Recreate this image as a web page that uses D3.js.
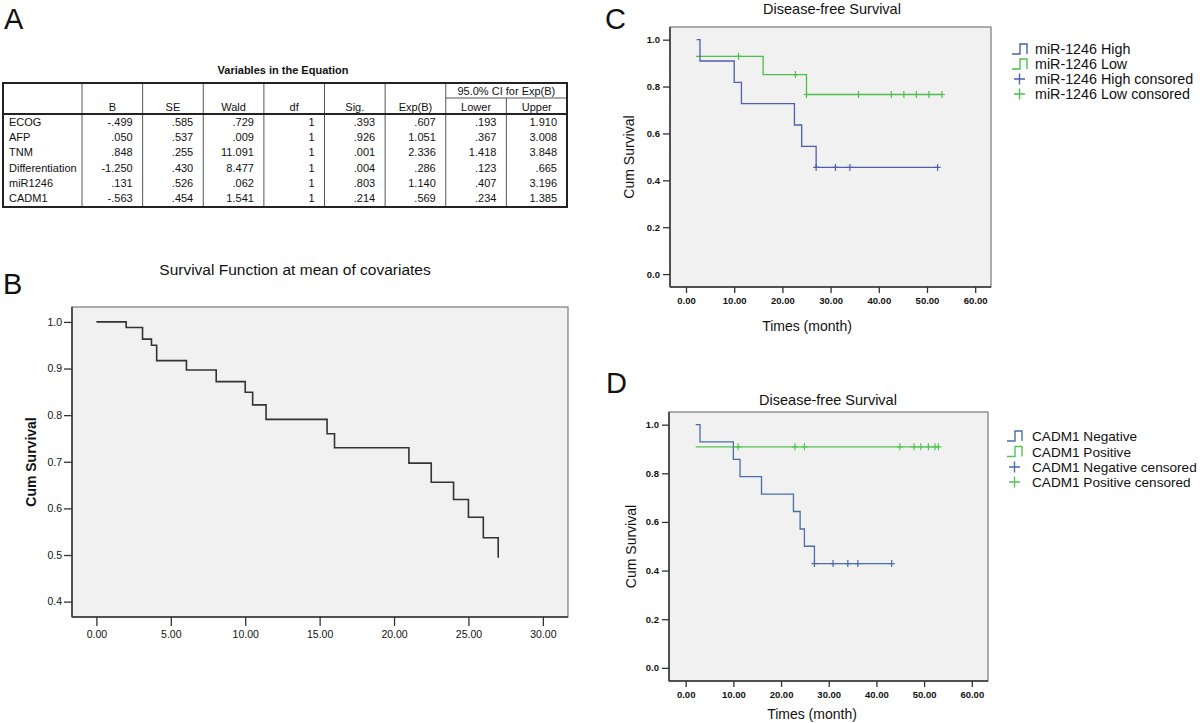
<!DOCTYPE html>
<html><head><meta charset="utf-8">
<script src="https://cdn.jsdelivr.net/npm/d3@7"></script>
<style>body{margin:0;background:#fff}svg{display:block}text{font-family:"Liberation Sans",Arial,sans-serif;fill:#111}</style>
</head><body><svg id="c" width="1200" height="723"></svg>
<script>
// ---------- data: table (panel A) ----------
const tableTitle = "Variables in the Equation";
const tableColumns = ["B","SE","Wald","df","Sig.","Exp(B)","Lower","Upper"];
const tableGroupHeader = "95.0% CI for Exp(B)";
const tableRows = ["ECOG","AFP","TNM","Differentiation","miR1246","CADM1"];
const colB = ["-.499",".050",".848","-1.250",".131","-.563"];
const colSE = [".585",".537",".255",".430",".526",".454"];
const colWald = [".729",".009","11.091","8.477",".062","1.541"];
const colDf = ["1","1","1","1","1","1"];
const colSig = [".393",".926",".001",".004",".803",".214"];
const colExpB = [".607","1.051","2.336",".286","1.140",".569"];
const colLower = [".193",".367","1.418",".123",".407",".234"];
const colUpper = ["1.910","3.008","3.848",".665","3.196","1.385"];

// ---------- data: panel B ----------
const bTitle = "Survival Function at mean of covariates";
const bTimes = [0,2.0,3.1,3.7,4.05,6.05,8.05,10.0,10.5,11.4,15.5,16.0,21.0,22.5,24.0,25.0,26.0,27.0];
const bSurv  = [1.0,0.988,0.963,0.950,0.917,0.897,0.872,0.849,0.822,0.791,0.760,0.730,0.697,0.656,0.619,0.581,0.537,0.494];
const bXTicks = [0,5,10,15,20,25,30];
const bYTicks = [0.4,0.5,0.6,0.7,0.8,0.9,1.0];

// ---------- data: panel C ----------
const cTitle = "Disease-free Survival";
const cHighTimes = [2.2,2.9,10.0,11.5,22.5,24.0,27.0,52.2];
const cHighSurv  = [1.0,0.909,0.818,0.727,0.636,0.545,0.455,0.455];
const cHighCensor = [27.0,31.0,34.0,52.2];
const cLowTimes = [2.1,16.0,25.0,53.1];
const cLowSurv  = [0.929,0.851,0.766,0.766];
const cLowCensor = [10.9,22.7,25.0,35.8,42.6,45.2,47.8,50.4,53.1];
const cLegend = ["miR-1246 High","miR-1246 Low","miR-1246 High consored","miR-1246 Low consored"];

// ---------- data: panel D ----------
const dTitle = "Disease-free Survival";
const dNegTimes = [2.1,3.0,10.0,11.4,15.9,22.6,24.0,24.9,27.0,43.2];
const dNegSurv  = [1.0,0.929,0.857,0.786,0.714,0.643,0.571,0.500,0.429,0.429];
const dNegCensor = [27.0,30.9,34.0,36.1,43.2];
const dPosTimes = [2.1,53.0];
const dPosSurv  = [0.909,0.909];
const dPosCensor = [11.0,22.9,24.9,44.9,47.9,49.3,50.9,52.3,53.0];
const dLegend = ["CADM1 Negative","CADM1 Positive","CADM1 Negative censored","CADM1 Positive censored"];

const kmXTicks = [0,10,20,30,40,50,60];
const kmYTicks = [0,0.2,0.4,0.6,0.8,1.0];

const svg = d3.select("#c");

// ---------- panel letters ----------
[["A",4,29],["B",3,294],["C",605,29],["D",606,393]].forEach(([t,x,y])=>{
  svg.append("text").attr("x",x).attr("y",y).attr("font-size",29).text(t);
});

// ---------- panel A table ----------
(function(){
  const g = svg.append("g");
  const left = 3, right = 567, top = 83, headMid = 98, headBot = 114, bottom = 207;
  const fs = 11;
  const colX = d3.scaleBand().domain(tableColumns).range([82, right]);
  const rowY = d3.scaleBand().domain(tableRows).range([headBot, bottom-1]);
  const cols = [colB,colSE,colWald,colDf,colSig,colExpB,colLower,colUpper];
  g.append("text").attr("x",283).attr("y",74).attr("text-anchor","middle")
    .attr("font-size",11).attr("font-weight","bold").text(tableTitle);
  tableColumns.forEach((c,i)=>{
    if(i===0) return;
    const yTop = (c==="Upper") ? headMid : top;
    g.append("line").attr("x1",colX(c)).attr("x2",colX(c)).attr("y1",yTop).attr("y2",bottom)
      .attr("stroke","#555").attr("stroke-width",1);
  });
  g.append("line").attr("x1",82).attr("x2",82).attr("y1",top).attr("y2",bottom).attr("stroke","#555");
  g.append("line").attr("x1",colX("Lower")).attr("x2",right).attr("y1",headMid).attr("y2",headMid).attr("stroke","#555");
  g.append("line").attr("x1",left).attr("x2",right).attr("y1",headBot).attr("y2",headBot).attr("stroke","#222").attr("stroke-width",1.8);
  g.append("rect").attr("x",left).attr("y",top).attr("width",right-left).attr("height",bottom-top)
    .attr("fill","none").attr("stroke","#222").attr("stroke-width",2);
  g.append("text").attr("x",colX("Lower")+colX.bandwidth()).attr("y",95).attr("text-anchor","middle")
    .attr("font-size",fs).text(tableGroupHeader);
  tableColumns.forEach(c=>{
    g.append("text").attr("x",colX(c)+colX.bandwidth()/2).attr("y",111).attr("text-anchor","middle")
      .attr("font-size",fs).text(c);
  });
  tableRows.forEach((r,i)=>{
    const yy = rowY(r)+rowY.bandwidth()/2+4;
    g.append("text").attr("x",9).attr("y",yy).attr("font-size",fs).text(r);
    cols.forEach((col,j)=>{
      g.append("text").attr("x",colX(tableColumns[j])+colX.bandwidth()-10).attr("y",yy)
        .attr("text-anchor","end").attr("font-size",fs).text(col[i]);
    });
  });
})();

// ---------- KM panel helper ----------
function survAt(times, surv, t){
  let v = surv[0];
  times.forEach((tt,i)=>{ if(tt <= t+1e-9) v = surv[i]; });
  return v;
}
function panel(o){
  const g = svg.append("g");
  const x = d3.scaleLinear().domain(o.xDomain).range([o.x0,o.x1]);
  const y = d3.scaleLinear().domain(o.yDomain).range([o.y1,o.y0]);
  g.append("rect").attr("x",o.x0).attr("y",o.y0).attr("width",o.x1-o.x0).attr("height",o.y1-o.y0)
    .attr("fill","#f1f1f1").attr("stroke","#7a7a7a").attr("stroke-width",1.2);
  g.append("line").attr("x1",o.x0).attr("x2",o.x0).attr("y1",o.y0).attr("y2",o.y1).attr("stroke","#333").attr("stroke-width",1.5);
  g.append("line").attr("x1",o.x0).attr("x2",o.x1).attr("y1",o.y1).attr("y2",o.y1).attr("stroke","#333").attr("stroke-width",1.5);
  const ax = g.append("g").attr("transform",`translate(0,${o.y1})`)
    .call(d3.axisBottom(x).tickValues(o.xTicks).tickFormat(d3.format(".2f")).tickSize(o.xTick).tickPadding(o.xPad));
  const ay = g.append("g").attr("transform",`translate(${o.x0},0)`)
    .call(d3.axisLeft(y).tickValues(o.yTicks).tickFormat(d3.format(".1f")).tickSize(o.yTick).tickPadding(o.yPad));
  [ax,ay].forEach(a=>{
    a.select(".domain").remove();
    a.selectAll(".tick line").attr("stroke","#333").attr("stroke-width",1.3);
    a.selectAll(".tick text").attr("font-size",o.tickFont).attr("font-weight",o.tickWeight).attr("fill","#111")
      .style("font-family",'"Liberation Sans",Arial,sans-serif');
  });
  g.append("text").attr("x",o.titleX).attr("y",o.titleY).attr("text-anchor","middle").attr("font-size",o.titleFont).text(o.title);
  g.append("text").attr("transform",`translate(${o.ylabX},${(o.y0+o.y1)/2}) rotate(-90)`)
    .attr("text-anchor","middle").attr("font-size",14).attr("font-weight",o.ylabWeight).text("Cum Survival");
  if(o.xlab) g.append("text").attr("x",o.xlabX).attr("y",o.xlabY).attr("text-anchor","middle").attr("font-size",14).text(o.xlab);
  const line = d3.line().curve(d3.curveStepAfter);
  o.series.forEach(s=>{
    g.append("path").attr("d",line(s.times.map((t,i)=>[x(t),y(s.surv[i])])))
      .attr("fill","none").attr("stroke",s.color).attr("stroke-width",s.width||1.3);
    if(s.censor){
      s.censor.forEach(t=>{
        const cx = x(t), cy = y(survAt(s.times,s.surv,t));
        g.append("path").attr("d",`M${cx-3},${cy}H${cx+3}M${cx},${cy-3.5}V${cy+3.5}`)
          .attr("stroke",s.color).attr("stroke-width",1.2);
      });
    }
  });
  if(o.legend){
    const L = o.legend;
    L.labels.forEach((lab,i)=>{
      const yy = L.rows[i], col = L.colors[i], sx = L.symX;
      if(i<2){
        g.append("path").attr("d",`M${sx},${yy+5}H${sx+8}V${yy-5}H${sx+15}V${yy+5}`)
          .attr("fill","none").attr("stroke",col).attr("stroke-width",1.4);
      } else {
        g.append("path").attr("d",`M${sx+2},${yy}H${sx+13}M${sx+7.5},${yy-5.5}V${yy+5.5}`)
          .attr("stroke",col).attr("stroke-width",1.4);
      }
      g.append("text").attr("x",L.textX).attr("y",yy+5).attr("font-size",L.font).text(lab);
    });
  }
}

const blueC = "#4d5fae", greenC = "#4cbf4c";
const blueD = "#4a6ea6", greenD = "#55c455";

// panel B
panel({x0:72,x1:568,y0:307,y1:617,xDomain:[-1.64,31.69],yDomain:[0.367,1.032],
  xTicks:bXTicks,yTicks:bYTicks,xTick:9,xPad:5,yTick:8,yPad:2,tickFont:10.5,tickWeight:"normal",
  title:bTitle,titleX:295,titleY:275,titleFont:15.5,ylabX:36,ylabWeight:"bold",
  series:[{times:bTimes,surv:bSurv,color:"#333",width:1.6}]});

// panel C
panel({x0:670,x1:991,y0:27,y1:287,xDomain:[-3.32,63.28],yDomain:[-0.055,1.054],
  xTicks:kmXTicks,yTicks:kmYTicks,xTick:6,xPad:4,yTick:7,yPad:3,tickFont:9.5,tickWeight:"bold",
  title:cTitle,titleX:832,titleY:14,titleFont:14.5,ylabX:634,ylabWeight:"normal",
  xlab:"Times (month)",xlabX:807,xlabY:331,
  series:[{times:cLowTimes,surv:cLowSurv,censor:cLowCensor,color:greenC},
          {times:cHighTimes,surv:cHighSurv,censor:cHighCensor,color:blueC}],
  legend:{labels:cLegend,rows:[49,64,79,94],colors:[blueC,greenC,blueC,greenC],symX:1012,textX:1035,font:14.3}});

// panel D
panel({x0:669,x1:988,y0:412,y1:681,xDomain:[-3.5,63.4],yDomain:[-0.054,1.052],
  xTicks:kmXTicks,yTicks:kmYTicks,xTick:6,xPad:4,yTick:7,yPad:3,tickFont:9.5,tickWeight:"bold",
  title:dTitle,titleX:828,titleY:405,titleFont:14.5,ylabX:636,ylabWeight:"normal",
  xlab:"Times (month)",xlabX:812,xlabY:719,
  series:[{times:dPosTimes,surv:dPosSurv,censor:dPosCensor,color:greenD},
          {times:dNegTimes,surv:dNegSurv,censor:dNegCensor,color:blueD}],
  legend:{labels:dLegend,rows:[436,451.5,467,482],colors:[blueD,greenD,blueD,greenD],symX:1007,textX:1032,font:13.6}});
</script></body></html>
